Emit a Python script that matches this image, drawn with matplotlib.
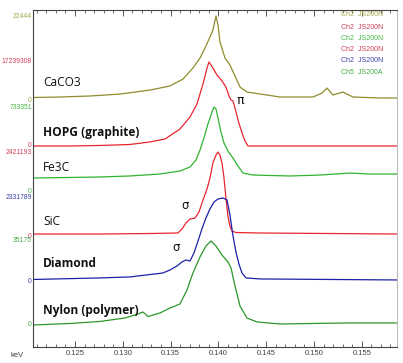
import matplotlib.pyplot as plt
from matplotlib.ticker import MultipleLocator, FormatStrFormatter

# spectra, intensity as fraction of each channel's full scale
caco3_kev = [0.12061, 0.12343, 0.12657, 0.12971, 0.13285, 0.13494, 0.13630, 0.13734,
             0.13808, 0.13860, 0.13912, 0.13943, 0.13975, 0.13996, 0.14017, 0.14069,
             0.14121, 0.14174, 0.14226, 0.14299, 0.14508, 0.14644, 0.14989, 0.15084,
             0.15136, 0.15199, 0.15303, 0.15408, 0.15690, 0.15868]
caco3 = [0.030, 0.036, 0.048, 0.071, 0.119, 0.167, 0.250, 0.381,
         0.500, 0.619, 0.750, 0.833, 1.000, 0.893, 0.690, 0.500,
         0.417, 0.286, 0.155, 0.095, 0.060, 0.036, 0.036, 0.083,
         0.143, 0.060, 0.095, 0.036, 0.024, 0.024]

hopg_kev = [0.12061, 0.12448, 0.12762, 0.13075, 0.13285, 0.13442, 0.13598, 0.13703,
            0.13776, 0.13839, 0.13881, 0.13902, 0.13943, 0.13985, 0.14038, 0.14079,
            0.14111, 0.14132, 0.14153, 0.14174, 0.14205, 0.14247, 0.14278, 0.14310,
            0.15868]
hopg = [0.0, 0.0, 0.006, 0.018, 0.048, 0.083, 0.202, 0.345,
        0.500, 0.738, 0.929, 1.000, 0.929, 0.845, 0.774, 0.702,
        0.595, 0.548, 0.536, 0.452, 0.310, 0.155, 0.060, 0.0,
        0.0]

fe3c_kev = [0.12061, 0.12448, 0.12762, 0.13075, 0.13389, 0.13598, 0.13703, 0.13766,
            0.13808, 0.13849, 0.13891, 0.13933, 0.13954, 0.13975, 0.13996, 0.14027,
            0.14059, 0.14100, 0.14153, 0.14205, 0.14257, 0.14362, 0.14749, 0.15063,
            0.15377, 0.15586, 0.15868]
fe3c = [0.155, 0.161, 0.167, 0.179, 0.202, 0.238, 0.286, 0.369,
        0.488, 0.631, 0.798, 0.940, 1.000, 0.976, 0.869, 0.702,
        0.571, 0.476, 0.393, 0.298, 0.214, 0.190, 0.179, 0.190,
        0.214, 0.202, 0.202]

sic_kev = [0.12061, 0.12762, 0.13285, 0.13577, 0.13619, 0.13661, 0.13703, 0.13755,
           0.13797, 0.13839, 0.13881, 0.13912, 0.13943, 0.13975, 0.13996, 0.14017,
           0.14038, 0.14059, 0.14079, 0.14100, 0.14121, 0.14142, 0.14184, 0.14435,
           0.15868]
sic = [0.024, 0.024, 0.030, 0.036, 0.083, 0.155, 0.202, 0.214,
       0.286, 0.429, 0.560, 0.690, 0.869, 0.964, 1.000, 0.964,
       0.869, 0.690, 0.452, 0.238, 0.119, 0.060, 0.042, 0.036,
       0.024]

diamond_kev = [0.12061, 0.12762, 0.13075, 0.13420, 0.13494, 0.13567, 0.13619, 0.13661,
               0.13703, 0.13745, 0.13787, 0.13828, 0.13870, 0.13912, 0.13954, 0.13996,
               0.14048, 0.14090, 0.14121, 0.14153, 0.14184, 0.14215, 0.14247, 0.14289,
               0.14435, 0.15868]
diamond = [0.030, 0.048, 0.060, 0.107, 0.143, 0.190, 0.238, 0.262,
           0.250, 0.345, 0.488, 0.631, 0.762, 0.869, 0.952, 0.988,
           1.000, 0.976, 0.798, 0.548, 0.357, 0.214, 0.107, 0.048,
           0.036, 0.024]

nylon_kev = [0.12061, 0.12448, 0.12762, 0.13023, 0.13159, 0.13211, 0.13264, 0.13389,
             0.13494, 0.13598, 0.13672, 0.13734, 0.13808, 0.13870, 0.13923, 0.13975,
             0.14038, 0.14100, 0.14132, 0.14174, 0.14226, 0.14299, 0.14404, 0.14644,
             0.15345, 0.15868]
nylon = [0.0, 0.018, 0.042, 0.083, 0.131, 0.155, 0.101, 0.143,
         0.202, 0.250, 0.417, 0.619, 0.810, 0.940, 1.000, 0.940,
         0.833, 0.750, 0.679, 0.464, 0.226, 0.083, 0.036, 0.012,
         0.024, 0.024]

names = ["CaCO3", "HOPG (graphite)", "Fe3C", "SiC", "Diamond", "Nylon (polymer)"]
full_scale = ["22444", "17239308", "733351", "2421193", "2331789", "35175"]
channels = ["Ch2  JS200N", "Ch2  JS200N", "Ch2  JS200N", "Ch2  JS200N", "Ch2  JS200N", "Ch5  JS200A"]

# layout: vertical offset of each trace's zero, and where its full scale sits
offsets = [2.940, 2.393, 1.857, 1.321, 0.774, 0.262]
colors = ["#8e8c2c", "#e8262e", "#2fb52f", "#e8262e", "#1c22a8", "#2a972a"]
label_colors = ["#a8a84a", "#d0405a", "#46b846", "#d0405a", "#3a44a8", "#46a846"]
bold = [False, True, False, False, True, True]
name_y = [3.143, 2.548, 2.131, 1.488, 0.988, 0.429]

spectra = [(caco3_kev, caco3), (hopg_kev, hopg), (fe3c_kev, fe3c),
           (sic_kev, sic), (diamond_kev, diamond), (nylon_kev, nylon)]

fig = plt.figure(figsize=(4.03, 3.63), dpi=100)
ax = fig.add_axes([0.0819, 0.0441, 0.9031, 0.9284])

for (xs, ys), off, c in zip(spectra, offsets, colors):
    ax.plot(xs, [off + v for v in ys], color=c, lw=0.9)

ax.set_xlim(0.12061, 0.15868)
ax.set_ylim(0, 4.012)

# trace names
for n, y, b in zip(names, name_y, bold):
    ax.text(0.12165, y, n, fontsize=8.6, fontweight="bold" if b else "normal",
            family="Open Sans", va="center", ha="left", color="#111111")

ax.text(0.13651, 1.690, "σ", fontsize=8.5, ha="center", va="center", color="#111111")
ax.text(0.13556, 1.179, "σ", fontsize=8.5, ha="center", va="center", color="#111111")
ax.text(0.14226, 2.940, "π", fontsize=9, ha="center", va="center", color="#111111")

# channel scale labels on the left
for off, fs, lc in zip(offsets, full_scale, label_colors):
    ax.text(-0.003, off + 1.0, fs, transform=ax.get_yaxis_transform(),
            fontsize=4.9, family="Liberation Sans", ha="right", va="center", color=lc)
    ax.text(-0.005, off, "0", transform=ax.get_yaxis_transform(),
            fontsize=4.9, family="Liberation Sans", ha="right", va="center", color=lc)

# channel list top right
leg_y = [0.9587, 0.9256, 0.8953, 0.8623, 0.8320, 0.7989]
for ch, y, lc in zip(channels, leg_y, label_colors):
    fig.text(0.846, y, ch, fontsize=5.0, family="Liberation Sans", color=lc,
             va="center", ha="left")

fig.text(0.025, 0.022, "keV", fontsize=5.5, family="Liberation Sans", color="#444444",
         va="center", ha="left")

ax.xaxis.set_major_locator(MultipleLocator(0.005))
ax.xaxis.set_minor_locator(MultipleLocator(0.001))
ax.xaxis.set_major_formatter(FormatStrFormatter("%.3f"))
ax.tick_params(axis="x", which="both", direction="in", top=True, color="#555555",
               labelsize=5.5, labelcolor="#444444", pad=2)
for lab in ax.get_xticklabels():
    lab.set_family("Liberation Sans")
ax.tick_params(axis="x", which="major", length=4.5, width=0.7)
ax.tick_params(axis="x", which="minor", length=2.5, width=0.6)
ax.set_yticks([])

for s in ["left", "bottom", "top"]:
    ax.spines[s].set_color("#444444")
    ax.spines[s].set_linewidth(0.8)
ax.spines["right"].set_color("#bbbbbb")
ax.spines["right"].set_linewidth(0.8)

fig.savefig("out.png", dpi=100)
